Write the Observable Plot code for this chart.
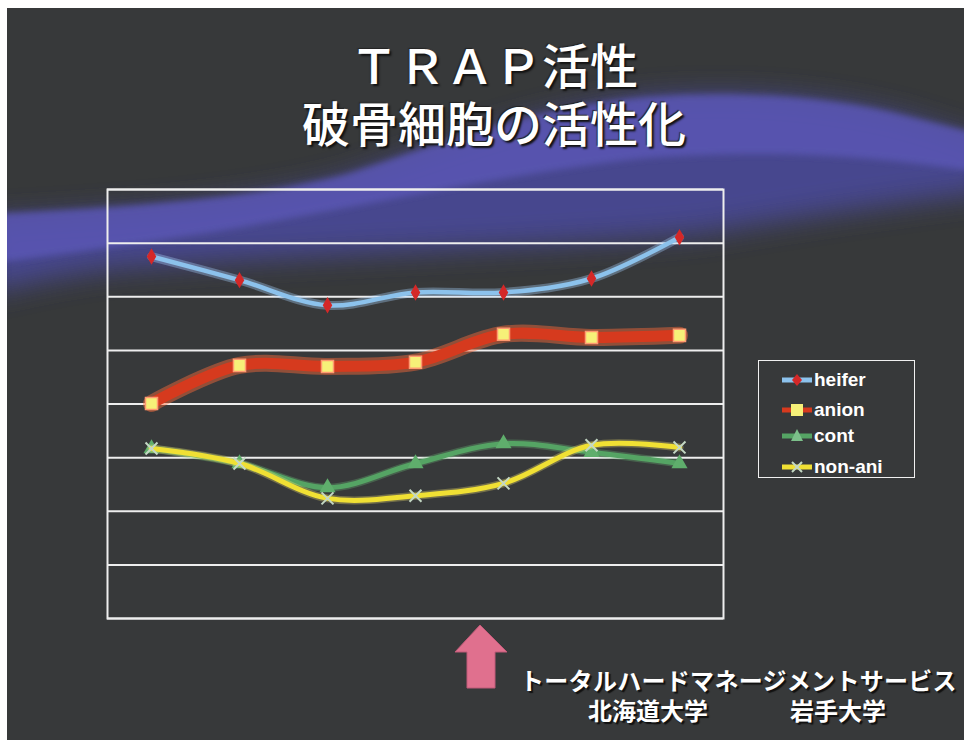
<!DOCTYPE html>
<html>
<head>
<meta charset="utf-8">
<script src="https://cdn.jsdelivr.net/npm/d3@7"></script>
<script src="https://cdn.jsdelivr.net/npm/@observablehq/plot@0.6"></script>
<style>
  html, body { margin: 0; padding: 0; background: #ffffff; }
  body { width: 964px; height: 740px; overflow: hidden; position: relative; }
  #slide { position: absolute; left: 7px; top: 8px; width: 957px; height: 732px; background: #37393a; overflow: hidden; }
  #deco { position: absolute; left: 0; top: 0; }
  .title { position: absolute; left: 487px; transform: translateX(-50%); color: #ffffff; font-family: "Noto Sans CJK JP", sans-serif; font-weight: 500; font-size: 48px; line-height: 50px; text-align: center; white-space: nowrap; text-shadow: 2px 2px 2px #111, -1px -1px 1px #222, 0 0 1px #fff; }
  #chart { position: absolute; left: 0; top: 160px; }
  #legend { position: absolute; left: 751px; top: 352px; width: 157px; height: 118px; border: 1.5px solid #f0f0f0; box-sizing: border-box; }
  .lg { position: absolute; left: 22px; height: 24px; display: flex; align-items: center; color: #fff; font-family: "Liberation Sans Narrow", "Liberation Sans", Arial, sans-serif; font-weight: bold; font-size: 19px; }
  .lg svg { margin-right: 1px; }
  .foot { position: absolute; color: #fff; font-family: "Noto Sans CJK JP", sans-serif; font-weight: 700; font-size: 24px; line-height: 26px; white-space: nowrap; text-shadow: 2px 2px 1px #111; }
</style>
</head>
<body>
<div id="slide">
  <svg id="deco" width="957" height="732"></svg>
  <div class="title" style="top:30px">ＴＲＡＰ活性</div>
  <div class="title" style="top:88px">破骨細胞の活性化</div>
  <div id="chart"></div>
  <div id="legend"></div>
  <div class="foot" style="left:513px; top:659px; letter-spacing:0.3px">トータルハードマネージメントサービス</div>
  <div class="foot" style="left:581px; top:689px">北海道大学</div>
  <div class="foot" style="left:783px; top:689px">岩手大学</div>
</div>
<script>
// ---- data ----
const categories = ["1", "2", "3", "4", "5", "6", "7"];
const heifer = [6.75, 6.31, 5.84, 6.08, 6.08, 6.34, 7.11];
const anion  = [4.01, 4.72, 4.70, 4.78, 5.30, 5.24, 5.28];
const cont   = [3.17, 2.89, 2.44, 2.89, 3.26, 3.10, 2.89];
const nonAni = [3.17, 2.89, 2.24, 2.29, 2.52, 3.23, 3.19];
const gridValues = [0, 1, 2, 3, 4, 5, 6, 7, 8];
const seriesNames = ["heifer", "anion", "cont", "non-ani"];

const seriesValues = { "heifer": heifer, "anion": anion, "cont": cont, "non-ani": nonAni };
const rows = (name) => categories.map((c, i) => ({ cat: c, value: seriesValues[name][i], series: name }));

// ---- decorative background wave (slide design, coordinates relative to slide) ----
const deco = d3.select("#deco");
const defs = deco.append("defs");
defs.append("filter").attr("id", "blur").attr("x", "-10%").attr("y", "-50%").attr("width", "120%").attr("height", "200%")
  .append("feGaussianBlur").attr("stdDeviation", 14);
defs.append("filter").attr("id", "blur2").attr("x", "-10%").attr("y", "-50%").attr("width", "120%").attr("height", "200%")
  .append("feGaussianBlur").attr("stdDeviation", 3);
// broad faded body
deco.append("path")
  .attr("d", "M -20 212 C 120 205, 250 195, 340 170 C 430 140, 520 105, 640 90 C 740 82, 830 92, 900 110 L 980 135 L 980 185 C 900 195, 820 205, 700 225 C 550 240, 300 245, 100 262 C 40 270, 0 280, -20 285 Z")
  .attr("fill", "#4a4898").attr("opacity", 0.9)
  .attr("filter", "url(#blur)");
// sharp upper edge region
deco.append("path")
  .attr("d", "M -20 206 C 120 200, 250 190, 340 166 C 430 137, 520 100, 640 89 C 740 82, 830 90, 900 108 L 980 128 L 980 165 C 880 150, 780 140, 640 150 C 500 165, 350 200, 200 225 C 100 240, 30 250, -20 255 Z")
  .attr("fill", "#5a56b4").attr("opacity", 0.85)
  .attr("filter", "url(#blur2)");

// ---- chart ----
const chart = Plot.plot({
  width: 957,
  height: 470,
  marginLeft: 100,
  marginRight: 241,
  marginTop: 21,
  marginBottom: 20,
  x: { type: "point", domain: categories, padding: 0.5, axis: null },
  y: { domain: [0, 8], axis: null },
  style: { background: "transparent", overflow: "visible" },
  marks: [
    Plot.ruleY(gridValues, { stroke: "#eeeeee", strokeWidth: 2 }),
    Plot.frame({ stroke: "#eeeeee", strokeWidth: 2 }),
    // heifer
    Plot.line(rows("heifer"), { x: "cat", y: "value", curve: "catmull-rom", stroke: "#a8d4ff", strokeOpacity: 0.35, strokeWidth: 9 }),
    Plot.line(rows("heifer"), { x: "cat", y: "value", curve: "catmull-rom", stroke: "#8cc2ec", strokeWidth: 4.5 }),
    Plot.dot(rows("heifer"), { x: "cat", y: "value", symbol: "diamond", r: 5, fill: "#d42828" }),
    // anion
    Plot.line(rows("anion"), { x: "cat", y: "value", curve: "catmull-rom", stroke: "#ff6a3a", strokeOpacity: 0.45, strokeWidth: 17 }),
    Plot.line(rows("anion"), { x: "cat", y: "value", curve: "catmull-rom", stroke: "#d63a1e", strokeWidth: 11 }),
    Plot.dot(rows("anion"), { x: "cat", y: "value", symbol: "square", r: 6.8, fill: "#f6f078", stroke: "#ff9a70", strokeWidth: 1.5 }),
    // cont
    Plot.line(rows("cont"), { x: "cat", y: "value", curve: "catmull-rom", stroke: "#6cc07a", strokeOpacity: 0.3, strokeWidth: 8 }),
    Plot.line(rows("cont"), { x: "cat", y: "value", curve: "catmull-rom", stroke: "#55a464", strokeWidth: 5 }),
    Plot.dot(rows("cont"), { x: "cat", y: "value", symbol: "triangle", r: 6, fill: "#5fae6c" }),
    // non-ani
    Plot.line(rows("non-ani"), { x: "cat", y: "value", curve: "catmull-rom", stroke: "#fff070", strokeOpacity: 0.3, strokeWidth: 8 }),
    Plot.line(rows("non-ani"), { x: "cat", y: "value", curve: "catmull-rom", stroke: "#f0e034", strokeWidth: 5 }),
    Plot.dot(rows("non-ani"), { x: "cat", y: "value", symbol: "times", r: 5.5, stroke: "#c4d8c4", strokeWidth: 2 })
  ]
});
document.getElementById("chart").appendChild(chart);

// ---- arrow (slide decoration) ----
const arrow = d3.select("#slide").append("svg")
  .style("position", "absolute").style("left", "446px").style("top", "616px")
  .attr("width", 56).attr("height", 66);
arrow.append("path")
  .attr("d", "M 27 1 L 54 28 L 42 28 L 42 64 L 14 64 L 14 28 L 2 28 Z")
  .attr("fill", "#e0708e").attr("stroke", "#c05a78").attr("stroke-width", 1);

// ---- legend ----
const legend = d3.select("#legend");
const legendTops = [7, 37, 63, 94];
const symbolDraw = {
  "heifer": (s) => {
    s.append("line").attr("x1", 1).attr("x2", 31).attr("y1", 8).attr("y2", 8).attr("stroke", "#8cc2ec").attr("stroke-width", 5);
    s.append("path").attr("d", "M16 2 L21 8 L16 14 L11 8 Z").attr("fill", "#d42828");
  },
  "anion": (s) => {
    s.append("line").attr("x1", 1).attr("x2", 31).attr("y1", 8).attr("y2", 8).attr("stroke", "#d63a1e").attr("stroke-width", 5);
    s.append("rect").attr("x", 10).attr("y", 2).attr("width", 12).attr("height", 12).attr("fill", "#f6f078");
  },
  "cont": (s) => {
    s.append("line").attr("x1", 1).attr("x2", 31).attr("y1", 8).attr("y2", 8).attr("stroke", "#55a464").attr("stroke-width", 5);
    s.append("path").attr("d", "M16 1 L22 13 L10 13 Z").attr("fill", "#7cc08a");
  },
  "non-ani": (s) => {
    s.append("line").attr("x1", 1).attr("x2", 31).attr("y1", 8).attr("y2", 8).attr("stroke", "#f0e034").attr("stroke-width", 5);
    s.append("path").attr("d", "M11 3 L21 13 M21 3 L11 13").attr("stroke", "#c4d8c4").attr("stroke-width", 2);
  }
};
seriesNames.forEach((name, i) => {
  const item = legend.append("div").attr("class", "lg").style("top", legendTops[i] + "px");
  const s = item.append("svg").attr("width", 32).attr("height", 16);
  symbolDraw[name](s);
  item.append("span").text(name);
});
</script>
</body>
</html>
